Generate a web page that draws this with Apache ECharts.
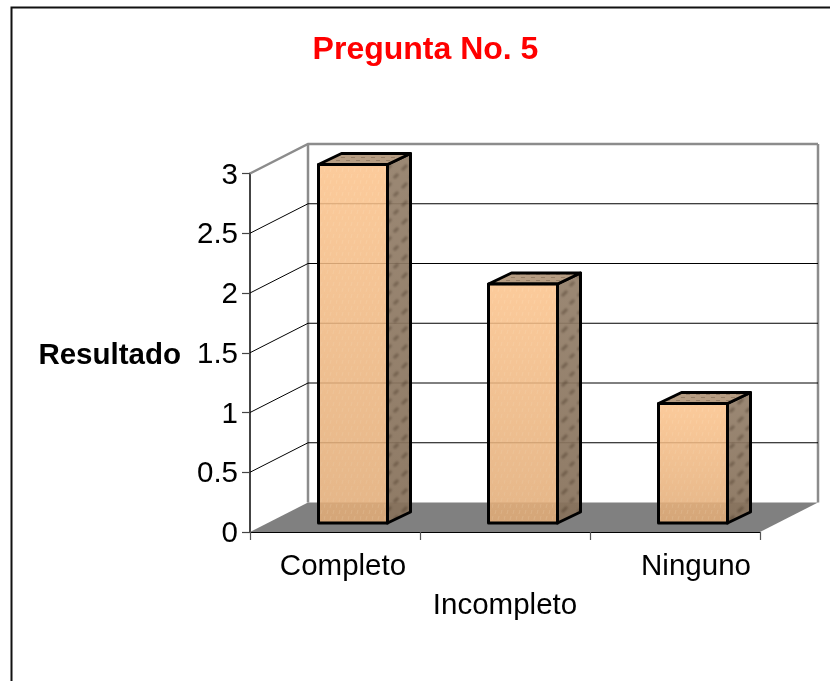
<!DOCTYPE html>
<html>
<head>
<meta charset="utf-8">
<style>html,body{margin:0;padding:0;background:#fff}#c{width:830px;height:681px}</style>
<script src="https://cdn.jsdelivr.net/npm/echarts@6/dist/echarts.min.js"></script>
</head>
<body>
<div id="c"></div>
<script>
const categories = ['Completo', 'Incompleto', 'Ninguno'];
const values = [3, 2, 1];
const yTicks = [0, 0.5, 1, 1.5, 2, 2.5, 3];
const titleText = 'Pregunta No. 5';
const yName = 'Resultado';

// Oblique projection offsets of the 3D look
const WALL_DX = 58, WALL_DY = 29.5;
const BAR_DX = 18, BAR_DY = 9;
const DEPTH_DX = 23, DEPTH_DY = 11;
const BAR_RATIO = 69 / 170;

function texture(w, h, base, draw) {
  const c = document.createElement('canvas');
  c.width = w; c.height = h;
  const g = c.getContext('2d');
  g.fillStyle = base; g.fillRect(0, 0, w, h);
  draw(g);
  return { image: c, repeat: 'repeat' };
}
const frontFill = texture(12, 12, 'rgba(252,194,138,0.86)', g => {
  g.strokeStyle = 'rgba(255,225,190,0.3)'; g.lineWidth = 1;
  for (let i = 0; i < 12; i += 6) {
    g.beginPath(); g.moveTo(i + 1, 0); g.lineTo(i, 4); g.stroke();
    g.beginPath(); g.moveTo(i + 4, 6); g.lineTo(i + 3, 10); g.stroke();
  }
});
const sideFill = texture(16, 18, 'rgba(146,126,104,0.92)', g => {
  g.filter = 'blur(1px)';
  g.strokeStyle = 'rgba(70,56,40,0.45)'; g.lineWidth = 3;
  g.beginPath(); g.moveTo(2, 8); g.lineTo(7, 3); g.stroke();
  g.beginPath(); g.moveTo(10, 16); g.lineTo(14, 12); g.stroke();
});
const topFill = texture(10, 6, 'rgba(178,152,124,0.95)', g => {
  g.strokeStyle = 'rgba(110,90,70,0.45)'; g.lineWidth = 1;
  g.beginPath(); g.moveTo(1, 1.5); g.lineTo(5, 1.5); g.stroke();
  g.beginPath(); g.moveTo(6, 4.5); g.lineTo(10, 4.5); g.stroke();
});
const shade = {
  type: 'linear', x: 0, y: 0, x2: 0, y2: 1,
  colorStops: [{ offset: 0, color: 'rgba(60,30,0,0)' }, { offset: 1, color: 'rgba(60,30,0,0.12)' }]
};

function renderWalls(params, api) {
  const v = api.value(0);
  const cs = params.coordSys;
  const y = api.coord([0, v])[1];
  const isTop = v === yTicks[yTicks.length - 1];
  const style = isTop ? { stroke: '#8c8c8c', lineWidth: 2.5 } : { stroke: '#000', lineWidth: 1 };
  const x0 = cs.x, x1 = cs.x + cs.width;
  const children = [];
  if (v !== 0) {
    children.push({ type: 'polyline', shape: { points: [[x0, y], [x0 + WALL_DX, y - WALL_DY], [x1 + WALL_DX, y - WALL_DY]] }, style: Object.assign({ fill: null }, style) });
  }
  return { type: 'group', children };
}
function renderFrame(params, api) {
  const cs = params.coordSys;
  const x0 = cs.x, x1 = cs.x + cs.width;
  const yTop = cs.y, yBot = cs.y + cs.height;
  const line = { stroke: '#8c8c8c', lineWidth: 2.5 };
  return { type: 'group', children: [
    { type: 'polygon', shape: { points: [[x0, yBot], [x0 + WALL_DX, yBot - WALL_DY], [x1 + WALL_DX, yBot - WALL_DY], [x1, yBot]] }, style: { fill: '#808080' } },
    { type: 'line', shape: { x1: x0 + WALL_DX, y1: yTop - WALL_DY, x2: x0 + WALL_DX, y2: yBot - WALL_DY }, style: line },
    { type: 'line', shape: { x1: x1 + WALL_DX, y1: yTop - WALL_DY, x2: x1 + WALL_DX, y2: yBot - WALL_DY }, style: line }
  ] };
}
function renderBar(params, api) {
  const i = api.value(0);
  const base = api.coord([i, 0]);
  const top = api.coord([i, api.value(1)]);
  const w = api.size([1, 0])[0] * BAR_RATIO;
  const l = base[0] - w / 2 + BAR_DX, r = l + w;
  const t = top[1] - BAR_DY, b = base[1] - BAR_DY;
  const edge = { stroke: '#000', lineWidth: 3, lineJoin: 'round' };
  return { type: 'group', children: [
    { type: 'polygon', shape: { points: [[r, t], [r + DEPTH_DX, t - DEPTH_DY], [r + DEPTH_DX, b - DEPTH_DY], [r, b]] }, style: { fill: sideFill } },
    { type: 'polygon', shape: { points: [[r, t], [r + DEPTH_DX, t - DEPTH_DY], [r + DEPTH_DX, b - DEPTH_DY], [r, b]] }, style: Object.assign({ fill: shade }, edge) },
    { type: 'polygon', shape: { points: [[l, t], [l + DEPTH_DX, t - DEPTH_DY], [r + DEPTH_DX, t - DEPTH_DY], [r, t]] }, style: Object.assign({ fill: topFill }, edge) },
    { type: 'rect', shape: { x: l, y: t, width: w, height: b - t }, style: { fill: frontFill } },
    { type: 'rect', shape: { x: l, y: t, width: w, height: b - t }, style: Object.assign({ fill: shade }, edge) }
  ] };
}

const chart = echarts.init(document.getElementById('c'), null, { renderer: 'canvas' });
const FONT = '"Liberation Sans", Arial, sans-serif';
chart.setOption({
  animation: false,
  backgroundColor: '#fff',
  title: {
    text: titleText, left: 420.5, top: 29, textAlign: 'center',
    textStyle: { color: '#ff0000', fontFamily: FONT, fontSize: 32, fontWeight: 'bold' }
  },
  graphic: [{
    type: 'polyline', silent: true, z: 0,
    shape: { points: [[11.5, 690], [11.5, 7.5], [840, 7.5]] },
    style: { fill: null, stroke: '#111', lineWidth: 2 }
  }],
  grid: { left: 250, right: 70, top: 173.5, bottom: 149, containLabel: false },
  xAxis: {
    type: 'category', data: categories,
    axisLine: { show: true, lineStyle: { color: '#000', width: 1.2 } },
    axisTick: { show: true, length: 8, alignWithLabel: false, lineStyle: { color: '#555', width: 1.2 } },
    axisLabel: {
      interval: 0, margin: 15, color: '#000', fontFamily: FONT, fontSize: 29.5, lineHeight: 39, align: 'center',
      formatter: (v, i) => i === 0 ? '{a|' + v + '}' : i === 1 ? '\n' + v : '{c|' + v + '}',
      rich: {
        a: { fontFamily: FONT, fontSize: 29.5, color: '#000', padding: [0, 0, 0, 16] },
        c: { fontFamily: FONT, fontSize: 29.5, color: '#000', padding: [0, 0, 0, 42] }
      }
    }
  },
  yAxis: {
    type: 'value', min: 0, max: 3, interval: 0.5,
    name: '{n|' + yName + '}', nameLocation: 'middle', nameRotate: 0, nameGap: 69,
    nameTextStyle: {
      color: '#000', fontFamily: FONT, fontSize: 29.5, fontWeight: 'bold',
      rich: { n: { fontFamily: FONT, fontSize: 29.5, fontWeight: 'bold', color: '#000', padding: [6, 0, 0, 0] } }
    },
    axisLine: { show: true, lineStyle: { color: '#444', width: 2 } },
    axisTick: { show: true, length: 8, lineStyle: { color: '#444', width: 1.2 } },
    axisLabel: {
      margin: 12, color: '#000', fontFamily: FONT, fontSize: 29.5,
      formatter: v => '{v|' + v + '}',
      rich: { v: { fontFamily: FONT, fontSize: 29.5, color: '#000', padding: [4, 0, 0, 0] } }
    },
    splitLine: { show: false }
  },
  series: [
    { type: 'custom', coordinateSystem: 'cartesian2d', z: 1, renderItem: renderFrame, data: [[0]], silent: true, clip: false },
    { type: 'custom', coordinateSystem: 'cartesian2d', z: 2, renderItem: renderWalls, data: yTicks.map(v => [v]), encode: { y: 0 }, silent: true, clip: false },
    { type: 'custom', coordinateSystem: 'cartesian2d', z: 3, renderItem: renderBar, data: values.map((v, i) => [i, v]), encode: { x: 0, y: 1 }, silent: true, clip: false }
  ]
});
</script>
</body>
</html>
